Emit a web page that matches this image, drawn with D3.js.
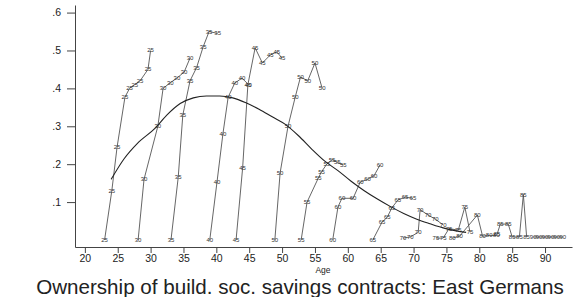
<!DOCTYPE html>
<html><head><meta charset="utf-8">
<script src="https://cdn.jsdelivr.net/npm/d3@7"></script>
<style>
html,body{margin:0;padding:0;background:#fff;}
svg{display:block;font-family:"Liberation Sans",Arial,sans-serif;}
</style></head>
<body><svg id="c" width="585" height="297"></svg>
<script>
// ---- data ----
const xTickValues = [20,25,30,35,40,45,50,55,60,65,70,75,80,85,90];
const yTickValues = [0.1,0.2,0.3,0.4,0.5,0.6];
const yTickLabels = [".1",".2",".3",".4",".5",".6"];
const cohortLabels = ["25","30","35","40","45","50","55","60","65","70","75","80","85","90"];
const cohortAges = [
  [23.0,24.1,24.9,26.1,26.8,27.6,28.4,29.6,30.0],
  [28.1,29.0,31.1,31.9,33.0,34.0,35.1,36.0],
  [33.1,34.2,34.9,36.0,37.0,38.0,38.9,40.2],
  [39.0,40.1,41.0,41.8,42.8,43.9,44.9],
  [43.0,44.0,44.8,45.9,47.0,48.2,49.2,50.0],
  [48.9,49.7,50.9,52.0,52.8,53.9,55.0,56.1],
  [52.9,53.8,55.5,56.0,56.8,57.6,58.4,59.3],
  [57.7,58.5,59.1,60.8,61.9,63.0,64.0,64.9],
  [63.8,65.2,66.0,66.7,67.6,68.7,69.9],
  [68.4,69.5,70.7,71.0,72.2,73.3,74.5],
  [73.4,74.5,75.4,76.8,77.8,78.6],
  [75.9,77.0,79.7,80.5,81.5,82.6],
  [82.7,83.2,84.4,85.0,86.1,86.7,87.2],
  [88.2,89.1,90.0,90.9,91.8,92.7]
];
const cohortShares = [
  [0,0.13,0.245,0.377,0.40,0.41,0.42,0.45,0.50],
  [0,0.16,0.30,0.40,0.415,0.427,0.443,0.48],
  [0,0.165,0.33,0.42,0.455,0.51,0.55,0.545],
  [0,0.153,0.28,0.377,0.414,0.427,0.41],
  [0,0.19,0.41,0.507,0.467,0.488,0.496,0.48],
  [0,0.177,0.30,0.377,0.43,0.42,0.467,0.40],
  [0,0.10,0.163,0.18,0.20,0.212,0.205,0.198],
  [0,0.087,0.11,0.11,0.153,0.16,0.17,0.198],
  [0,0.047,0.06,0.085,0.105,0.113,0.11],
  [0.005,0.008,0.02,0.08,0.066,0.055,0.04],
  [0.005,0.005,0.03,0.026,0.087,0.02],
  [0.005,0.01,0.066,0.01,0.012,0.012],
  [0.015,0.042,0.042,0.008,0.008,0.12,0.008],
  [0.008,0.008,0.008,0.008,0.008,0.008]
];
const fitAges = [24,26,28,30.7,32.5,34.5,36.5,38.5,40.5,42.5,44.5,46.5,48.5,50.5,52.5,54.5,56.5,58.5,60.5,62.5,64.5,66.5,68.5,70.5,72.5,74.5,76.5,78];
const fitShares = [0.16,0.215,0.255,0.295,0.33,0.36,0.375,0.38,0.38,0.375,0.362,0.345,0.325,0.305,0.275,0.24,0.208,0.183,0.155,0.13,0.108,0.088,0.07,0.055,0.043,0.032,0.024,0.02];
const xTitle = "Age";
const chartTitle = "Ownership of build. soc. savings contracts: East Germans";

// ---- drawing ----
const svg = d3.select("#c");
const x = d3.scaleLinear().domain([18.5, 94.1]).range([75, 572]);
const y = d3.scaleLinear().domain([-0.0185, 0.62]).range([247, 5]);

const axisColor = "#444";
const yAxis = svg.append("g").attr("transform","translate(75,0)")
  .call(d3.axisLeft(y).tickValues(yTickValues).tickFormat((d,i)=>yTickLabels[i]).tickSize(8).tickSizeOuter(0).tickPadding(6));
const xAxis = svg.append("g").attr("transform","translate(0,247)")
  .call(d3.axisBottom(x).tickValues(xTickValues).tickFormat(d3.format("d")).tickSize(6).tickSizeOuter(0).tickPadding(2));
[yAxis,xAxis].forEach(g=>{
  g.selectAll("path,line").attr("stroke",axisColor).attr("stroke-width",1);
  g.selectAll("text").attr("font-size",10.5).attr("fill","#222").attr("font-family","\"Liberation Sans\",Arial,sans-serif");
});

const line = d3.line().x(d=>x(d[0])).y(d=>y(d[1]));
cohortLabels.forEach((lab,i)=>{
  const pts = cohortAges[i].map((a,j)=>[a,cohortShares[i][j]]);
  svg.append("path").datum(pts).attr("d",line).attr("fill","none")
    .attr("stroke","#555").attr("stroke-width",0.9);
  svg.append("g").selectAll("text").data(pts).join("text")
    .attr("x",d=>x(d[0])).attr("y",d=>y(d[1]))
    .attr("text-anchor","middle").attr("dominant-baseline","central")
    .attr("font-size",6).attr("fill","#333").text(lab);
});

const fit = fitAges.map((a,j)=>[a,fitShares[j]]);
svg.append("path").datum(fit)
  .attr("d",d3.line().x(d=>x(d[0])).y(d=>y(d[1])).curve(d3.curveMonotoneX))
  .attr("fill","none").attr("stroke","#222").attr("stroke-width",1.1);

svg.append("text").attr("x",323).attr("y",269.5).attr("text-anchor","middle")
  .attr("dominant-baseline","central").attr("font-size",8.5).attr("fill","#222").text(xTitle);

const t = svg.append("text").attr("x",300).attr("y",293.5).attr("text-anchor","middle")
  .attr("font-size",18).attr("fill","#222").text(chartTitle);
const w = t.node().getComputedTextLength();
t.attr("font-size", 18*528/w);
</script></body></html>
